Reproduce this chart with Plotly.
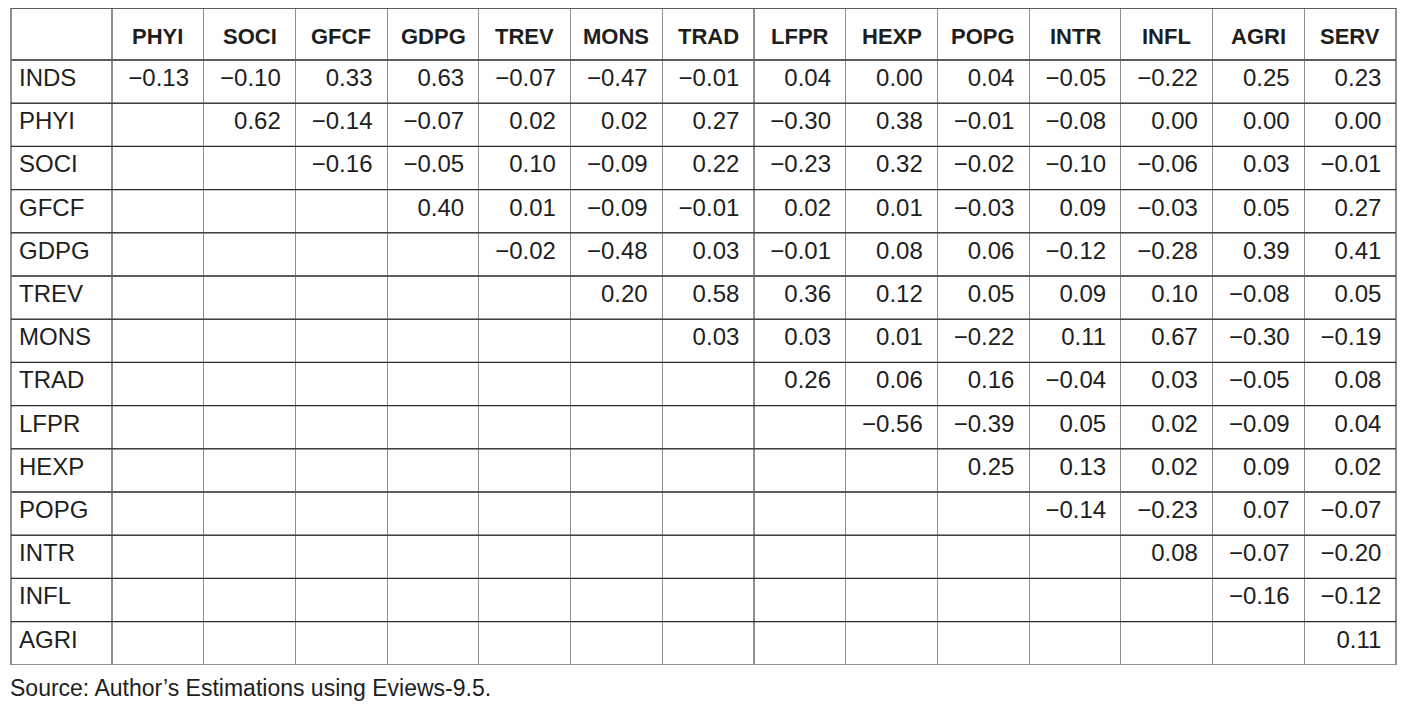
import plotly.graph_objects as go

# correlation matrix (upper triangle), rows vs columns
col_names = ['PHYI', 'SOCI', 'GFCF', 'GDPG', 'TREV', 'MONS', 'TRAD',
             'LFPR', 'HEXP', 'POPG', 'INTR', 'INFL', 'AGRI', 'SERV']
row_names = ['INDS', 'PHYI', 'SOCI', 'GFCF', 'GDPG', 'TREV', 'MONS',
             'TRAD', 'LFPR', 'HEXP', 'POPG', 'INTR', 'INFL', 'AGRI']

inds = [-0.13, -0.10, 0.33, 0.63, -0.07, -0.47, -0.01, 0.04, 0.00, 0.04, -0.05, -0.22, 0.25, 0.23]
phyi = [0.62, -0.14, -0.07, 0.02, 0.02, 0.27, -0.30, 0.38, -0.01, -0.08, 0.00, 0.00, 0.00]
soci = [-0.16, -0.05, 0.10, -0.09, 0.22, -0.23, 0.32, -0.02, -0.10, -0.06, 0.03, -0.01]
gfcf = [0.40, 0.01, -0.09, -0.01, 0.02, 0.01, -0.03, 0.09, -0.03, 0.05, 0.27]
gdpg = [-0.02, -0.48, 0.03, -0.01, 0.08, 0.06, -0.12, -0.28, 0.39, 0.41]
trev = [0.20, 0.58, 0.36, 0.12, 0.05, 0.09, 0.10, -0.08, 0.05]
mons = [0.03, 0.03, 0.01, -0.22, 0.11, 0.67, -0.30, -0.19]
trad = [0.26, 0.06, 0.16, -0.04, 0.03, -0.05, 0.08]
lfpr = [-0.56, -0.39, 0.05, 0.02, -0.09, 0.04]
hexp = [0.25, 0.13, 0.02, 0.09, 0.02]
popg = [-0.14, -0.23, 0.07, -0.07]
intr = [0.08, -0.07, -0.20]
infl = [-0.16, -0.12]
agri = [0.11]

source_note = "Source: Author’s Estimations using Eviews-9.5."

rows = [inds, phyi, soci, gfcf, gdpg, trev, mons, trad, lfpr, hexp, popg, intr, infl, agri]
ncol = len(col_names)


def fmt(v):
    # unicode minus, plus a trailing nbsp for the wider right padding
    return '{:.2f}'.format(v).replace('-', '\u2212') + '\u00a0'


# pad the left side of each row with blanks (lower triangle)
grid = []
for r in rows:
    grid.append([''] * (ncol - len(r)) + [fmt(v) for v in r])

columns = [row_names] + [[g[j] for g in grid] for j in range(ncol)]

line_col = '#8f8f8f'
rule_col = '#2a2a2a'
text_col = '#1e1e1e'
fam = 'Liberation Sans, Arial'
widths = [101] + [91.7] * ncol
head_h = 52
row_h = 43.2
bottom = 40
paper_h = 708 - bottom

fig = go.Figure(go.Table(
    columnwidth=widths,
    header=dict(values=[''] * (ncol + 1),
                height=head_h,
                fill_color='white',
                line=dict(color=line_col, width=1.2),
                font=dict(family=fam, size=22, color=text_col)),
    cells=dict(values=columns,
               align=['left'] + ['right'] * ncol,
               height=row_h,
               fill_color='white',
               line=dict(color=line_col, width=1.2),
               font=dict(family=fam, size=24, color=text_col)),
    domain=dict(x=[0, 1], y=[0, 1])
))

# header labels, vertically centred in the header row
total = sum(widths)
left = widths[0]
for name, w in zip(col_names, widths[1:]):
    fig.add_annotation(text='<b>' + name + '</b>', xref='paper', yref='paper',
                       x=(left + w / 2) / total, y=1, yshift=-head_h / 2 - 2,
                       xanchor='center', yanchor='middle', showarrow=False,
                       font=dict(family=fam, size=22, color=text_col))
    left += w

# darker horizontal rules (top border + row separators)
for k in range(len(row_names)):
    off = 0 if k == 0 else head_h + row_h * (k - 1)
    yy = 1 - off / paper_h
    fig.add_shape(type='line', xref='paper', yref='paper', x0=0, x1=1, y0=yy, y1=yy,
                  line=dict(color=rule_col, width=1.2))
yy = 1 - (head_h + row_h * 13) / paper_h
fig.add_shape(type='line', xref='paper', yref='paper', x0=0, x1=1, y0=yy, y1=yy,
              line=dict(color=rule_col, width=1.2))

fig.add_annotation(text=source_note, xref='paper', yref='paper', x=0, y=0,
                   xanchor='left', yanchor='middle', yshift=-12, xshift=-3, showarrow=False,
                   font=dict(family=fam, size=23, color=text_col))

fig.update_layout(width=1416, height=708, paper_bgcolor='white',
                  margin=dict(l=3, r=28, t=0, b=bottom))

fig.write_html("out.html")
